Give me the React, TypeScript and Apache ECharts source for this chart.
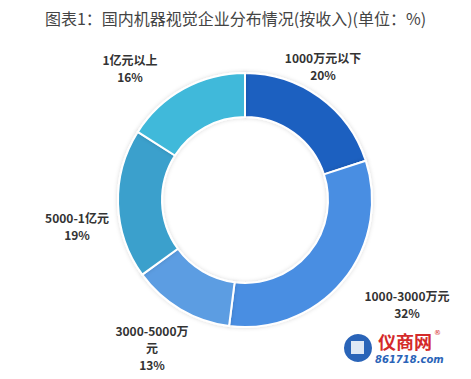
import React, { useEffect, useRef } from "react";
import * as echarts from "echarts";

const TITLE = "图表1：国内机器视觉企业分布情况(按收入)(单位：%)";
const CATEGORIES = ["1000万元以下", "1000-3000万元", "3000-5000万元", "5000-1亿元", "1亿元以上"];
const VALUES = [20, 32, 13, 19, 16];
const COLORS = ["#1f60c0", "#4a8ee2", "#5c9de2", "#3ba0cc", "#3fb9da"];
// label centre positions (px)
const LABEL_POS: [number, number][] = [
  [323, 66],
  [407, 304],
  [152, 347],
  [77, 226],
  [130, 68],
];

export default function App() {
  const ref = useRef<HTMLDivElement>(null);
  useEffect(() => {
    if (!ref.current) return;
    const chart = echarts.init(ref.current, null, { renderer: "svg" });
    const font = '"Noto Sans CJK SC", "Noto Sans", sans-serif';
    chart.setOption({
      animation: false,
      backgroundColor: "#ffffff",
      title: {
        text: TITLE,
        left: "center",
        top: 5,
        textStyle: { fontFamily: font, fontSize: 16, fontWeight: "normal", color: "#444" },
      },
      series: [
        {
          type: "pie",
          center: [245, 200],
          radius: [83, 127],
          startAngle: 90,
          clockwise: true,
          avoidLabelOverlap: false,
          itemStyle: {
            borderColor: "#ffffff",
            borderWidth: 2,
            shadowBlur: 4,
            shadowColor: "rgba(0,0,0,0.15)",
          },
          label: {
            show: true,
            position: "outside",
            formatter: "{b}\n{c}%",
            fontFamily: font,
            fontSize: 12,
            fontWeight: "bold",
            color: "#333",
            lineHeight: 17,
            align: "center",
          },
          labelLine: { show: false },
          labelLayout: (p: any) => {
            const pos = LABEL_POS[p.dataIndex];
            return { x: pos[0], y: pos[1], align: "center", verticalAlign: "middle" };
          },
          data: CATEGORIES.map((name, i) => ({
            name,
            value: VALUES[i],
            itemStyle: { color: COLORS[i] },
            label: i === 2 ? { width: 80, overflow: "break" } : undefined,
          })),
        },
      ],
      graphic: [
        { type: "circle", shape: { cx: 358, cy: 348, r: 14 }, style: { fill: "#2a64b8" } },
        { type: "rect", shape: { x: 351, y: 341, width: 13, height: 13 }, style: { fill: "#ffffff", opacity: 0.85 } },
        {
          type: "text",
          left: 378,
          top: 332,
          style: { text: "仪商网", font: 'bold 18px "Noto Sans CJK SC"', fill: "#d42a2a" },
        },
        {
          type: "text",
          left: 434,
          top: 329,
          style: { text: "®", font: '7px "DejaVu Sans"', fill: "#d42a2a" },
        },
        {
          type: "text",
          left: 375,
          top: 354,
          style: { text: "861718.com", font: 'italic bold 10px "DejaVu Sans"', fill: "#2a64b8" },
        },
      ],
    });
    return () => chart.dispose();
  }, []);
  return <div ref={ref} style={{ position: "fixed", left: 0, top: 0, width: 471, height: 379 }} />;
}
